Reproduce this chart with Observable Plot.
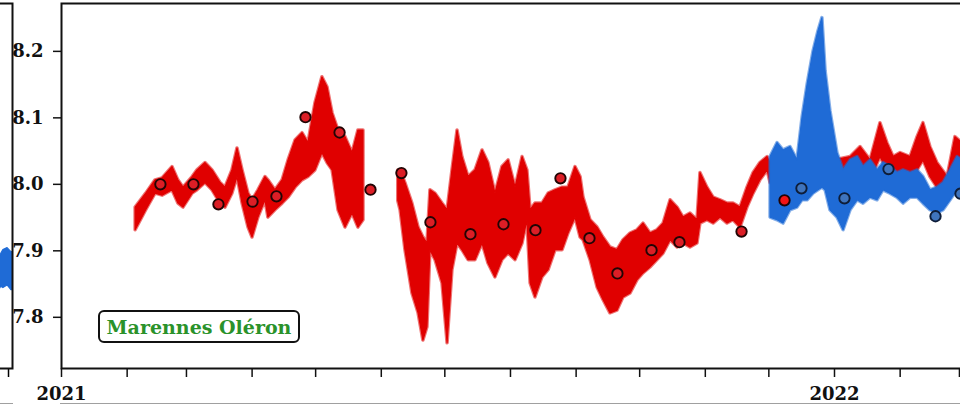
<!DOCTYPE html>
<html><head><meta charset="utf-8">
<script src="https://cdn.jsdelivr.net/npm/d3@7"></script>
<script src="https://cdn.jsdelivr.net/npm/@observablehq/plot@0.6"></script>
<style>
html,body{margin:0;padding:0;background:#fff;overflow:hidden;width:960px;height:405px;}
#wrap{position:relative;width:960px;height:405px;overflow:hidden;background:#fff;}
#wrap svg{max-width:none !important;display:block;}
#main{position:absolute;left:0;top:0;width:1026px;}
#side{position:absolute;left:-28px;top:0;width:42px;}
#legend{position:absolute;left:98px;top:310px;width:202px;height:33px;box-sizing:border-box;border:2px solid #111;border-radius:6px;background:#fff;font:bold 19px "DejaVu Serif";color:#2a922a;display:flex;align-items:center;justify-content:center;white-space:nowrap;}
#bline{position:absolute;top:403px;left:60px;width:900px;height:1px;background:#a0a0a0;}
#bline2{position:absolute;top:403px;left:0px;width:13px;height:1px;background:#a0a0a0;}
</style></head>
<body><div id="wrap"><div id="side"></div><div id="main"></div><div id="legend">Marennes Oléron</div><div id="bline"></div><div id="bline2"></div></div>
<script>
// ---- data (days since 2021-01-01, pH) ----
const yTicks = [7.8, 7.9, 8.0, 8.1, 8.2];

// continuous sensor record (red), NaN marks the data gap
const redDay = [35,40,44.4,47.7,52.4,55.2,57.6,61.9,64.2,68,71.3,75.1,77.4,80.7,83.1,85.5,88.3,90.2,93,96.3,97.7,101,104.4,107.2,110.5,113.8,116.6,119.9,123.2,125.6,128,130.8,134.1,137.4,140.2,142.6,
150,
159,160.1,162.4,165.7,168.6,170.9,172.8,174.2,176.6,179.9,182.3,184.6,187,189.3,192.2,195.5,198.8,201.6,204.9,208.2,211.1,214.4,217.7,220,221.5,223.8,227.1,230,233.3,236.6,239.4,242.7,245.1,246.5,249.8,253.1,255.9,259.2,262.5,265.4,268.7,272,274.8,278.1,281.4,284.3,287.6,290.9,293.7,297,300.3,301.7,305,307.9,311.2,314.5,317.3,320.6,323.9,326.8,330,333.4,334.8,338.1,344.2,352,358.9,365,372.6,377.3,382,386.7,390,392.9,396.2,400.9,404.2,407,410.3,413.6,418.4,422.1,425.4];
const redHi = [7.965,7.986,8.006,8.009,8.026,8.006,7.995,8.011,8.021,8.032,8.021,8.002,7.995,8.021,8.054,8.021,7.986,7.976,7.991,8.011,8.006,7.991,8.006,8.036,8.066,8.077,8.062,8.122,8.161,8.146,8.107,8.081,8.071,8.047,8.081,8.081,
NaN,
8.021,8.021,8.002,7.971,7.935,7.920,7.911,7.991,7.986,7.971,7.961,8.021,8.081,8.041,8.011,8.021,8.051,8.032,7.986,8.026,8.036,7.995,8.041,8.021,7.961,7.971,7.971,7.986,7.991,7.995,7.995,8.026,8.011,7.980,7.946,7.935,7.920,7.905,7.901,7.916,7.926,7.931,7.941,7.926,7.931,7.941,7.976,7.965,7.950,7.956,7.946,8.017,7.995,7.980,7.976,7.971,7.971,7.965,7.995,8.017,8.032,8.041,8.032,8.047,8.041,8.026,8.041,8.036,8.041,8.056,8.036,8.092,8.062,8.041,8.047,8.041,8.071,8.092,8.056,8.032,8.011,8.071,8.062];
const redLo = [7.931,7.961,7.986,7.983,7.991,7.971,7.965,7.986,7.991,8.002,7.991,7.971,7.965,7.986,8.011,7.971,7.935,7.920,7.950,7.976,7.950,7.961,7.971,7.980,7.995,8.006,8.011,8.021,8.047,8.032,8.021,7.961,7.935,7.956,7.935,7.946,
NaN,
7.975,7.961,7.901,7.836,7.806,7.765,7.785,7.901,7.886,7.851,7.761,7.871,7.911,7.901,7.886,7.886,7.911,7.881,7.860,7.886,7.896,7.886,7.911,7.946,7.851,7.830,7.860,7.871,7.901,7.901,7.926,7.950,7.920,7.916,7.886,7.845,7.826,7.806,7.810,7.830,7.836,7.856,7.866,7.875,7.886,7.896,7.916,7.905,7.911,7.905,7.911,7.941,7.946,7.941,7.950,7.941,7.946,7.935,7.965,7.986,8.006,8.021,8.002,8.006,8.002,7.995,8.011,8.006,8.011,8.021,8.006,8.041,8.021,8.006,8.011,8.002,8.021,8.036,8.011,7.995,7.980,8.026,8.021];

// second sensor (blue)
const blueDay = [334.8,338.1,340.9,344.2,347.5,349.9,352.3,355.1,357.4,359.3,360.8,363.1,366.4,369.3,372.6,375.9,378.7,382,385.3,388.1,391.4,394.7,397.6,400.9,404.2,407,410.3,413.6,416.5,419.8,423.1,425.4];
const blueHi = [8.041,8.062,8.051,8.056,8.036,8.100,8.150,8.200,8.230,8.250,8.170,8.110,8.047,8.021,8.036,8.041,8.026,8.036,8.021,8.032,8.026,8.017,8.021,8.017,8.021,8.011,7.991,7.995,8.002,8.021,8.041,8.036];
const blueLo = [7.950,7.946,7.941,7.961,7.965,7.976,7.976,7.986,7.991,7.995,7.991,7.961,7.950,7.931,7.961,7.976,7.971,7.980,7.976,7.991,7.986,7.980,7.971,7.980,7.980,7.971,7.961,7.956,7.961,7.976,7.991,7.980];

// discrete samples
const redSampleDay = [46.7,62.3,74.1,90.2,101.5,115.2,131.3,145.9,160.5,174.2,193.1,208.7,223.8,235.6,249.3,262.5,278.6,291.8,321.1];
const redSamplePH  = [8.000,8.000,7.970,7.974,7.982,8.101,8.078,7.992,8.017,7.943,7.925,7.940,7.931,8.009,7.919,7.866,7.901,7.913,7.929];
const redWinterDay = [341.4];
const redWinterPH  = [7.976];
const blueSampleDay = [349.4,369.7,390.5,412.7,424.5];
const blueSamplePH  = [7.994,7.979,8.023,7.952,7.986];

// neighbouring panel fragment
const sideX  = [0.63,0.70,0.76,0.87,0.97,1.0];
const sideHi = [7.889,7.895,7.901,7.904,7.898,7.898];
const sideLo = [7.838,7.846,7.844,7.848,7.841,7.841];
const sideTicks = [0.895];

// ---- build tables ----
const day0 = Date.UTC(2021, 0, 1);
const toDate = d => new Date(day0 + d * 86400000);
const red = redDay.map((d, i) => ({date: toDate(d), hi: redHi[i], lo: redLo[i]}));
const blue = blueDay.map((d, i) => ({date: toDate(d), hi: blueHi[i], lo: blueLo[i]}));
const redS = redSampleDay.map((d, i) => ({date: toDate(d), ph: redSamplePH[i]}));
const redW = redWinterDay.map((d, i) => ({date: toDate(d), ph: redWinterPH[i]}));
const blueS = blueSampleDay.map((d, i) => ({date: toDate(d), ph: blueSamplePH[i]}));
const side = sideX.map((x, i) => ({x, hi: sideHi[i], lo: sideLo[i]}));

const monthTicks = d3.utcMonth.range(toDate(0), toDate(456));
const yDomain = [7.723, 8.272];
const RED = "#e00000", BLUE = "#1f6bd6";

const chart = Plot.plot({
  width: 1026, height: 405,
  marginLeft: 61, marginRight: 1.4, marginTop: 3, marginBottom: 37,
  x: {type: "utc", domain: [toDate(0), toDate(455)], label: null},
  y: {domain: yDomain, label: null},
  style: {fontFamily: "DejaVu Serif", fontSize: "18px", fontWeight: "bold", color: "#111", background: "transparent", maxWidth: "none"},
  marks: [
    Plot.areaY(red, {x: "date", y1: "lo", y2: "hi", fill: "none", stroke: RED, strokeOpacity: 0.55, strokeWidth: 3.5}),
    Plot.areaY(red, {x: "date", y1: "lo", y2: "hi", fill: RED, stroke: RED, strokeWidth: 1.2}),
    Plot.areaY(blue, {x: "date", y1: "lo", y2: "hi", fill: "none", stroke: BLUE, strokeOpacity: 0.55, strokeWidth: 3.5}),
    Plot.areaY(blue, {x: "date", y1: "lo", y2: "hi", fill: BLUE, stroke: BLUE, strokeWidth: 1.2}),
    Plot.dot(redS, {x: "date", y: "ph", r: 5.2, fill: "#dc1e26", stroke: "#220404", strokeWidth: 1.9}),
    Plot.dot(redW, {x: "date", y: "ph", r: 5.2, fill: "#f41414", stroke: "#220404", strokeWidth: 1.9}),
    Plot.dot(blueS, {x: "date", y: "ph", r: 5.2, fill: "#3f74bd", stroke: "#0e1d38", strokeWidth: 1.9}),
    Plot.axisY({ticks: yTicks, tickSize: 8, tickPadding: 10, strokeWidth: 1.5, label: null, tickFormat: d3.format(".1f")}),
    Plot.axisX({ticks: monthTicks, tickSize: 9, tickPadding: 10, strokeWidth: 1.5, label: null,
      tickFormat: d => d.getUTCMonth() === 0 ? String(d.getUTCFullYear()) : ""}),
    Plot.frame({stroke: "#111", strokeWidth: 2})
  ]
});
document.getElementById("main").append(chart);

const sideChart = Plot.plot({
  width: 42, height: 405,
  marginLeft: 2, marginRight: 2, marginTop: 3, marginBottom: 37,
  x: {domain: [0, 1], label: null},
  y: {domain: yDomain, axis: null, label: null},
  style: {background: "transparent", maxWidth: "none"},
  marks: [
    Plot.areaY(side, {x: "x", y1: "lo", y2: "hi", fill: BLUE, stroke: BLUE, strokeWidth: 1.2}),
    Plot.axisX({ticks: sideTicks, tickSize: 9, strokeWidth: 1.5, label: null, tickFormat: () => ""}),
    Plot.frame({stroke: "#111", strokeWidth: 2})
  ]
});
document.getElementById("side").append(sideChart);
</script>
</body></html>
